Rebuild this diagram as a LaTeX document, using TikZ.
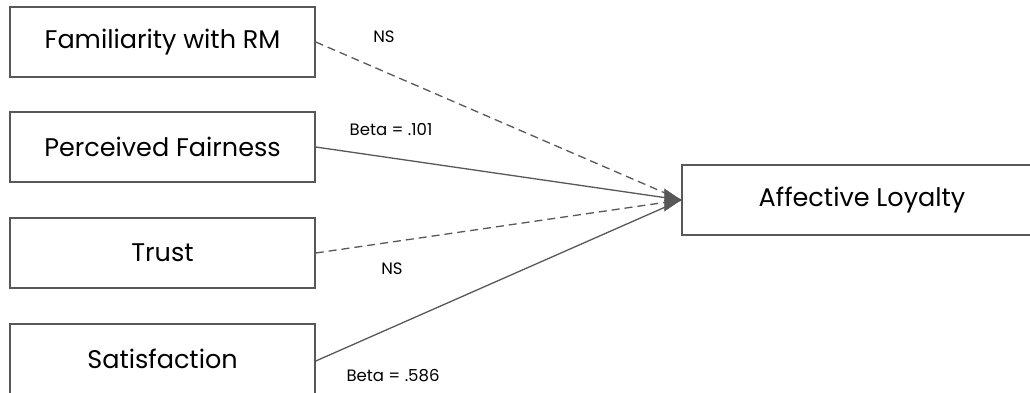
\documentclass[tikz,border=0pt]{standalone}
\usepackage{fontspec}
\setmainfont{Poppins}
\usetikzlibrary{arrows.meta}
\definecolor{edge}{HTML}{585858}
\tikzset{
  factor/.style={draw=edge, line width=1.5pt, fill=white, minimum width=305pt,
    minimum height=70pt, inner sep=0pt, font=\fontsize{25.5}{28}\selectfont},
  outcome/.style={factor, minimum width=360pt},
  sig/.style={draw=edge, line width=1.3pt},
  nsig/.style={sig, dash pattern=on 8pt off 5pt},
  coef/.style={font=\fontsize{16.5}{19}\selectfont, inner sep=0pt},
  tip/.style={draw=edge, line width=0.5pt, -{Triangle[length=17pt,width=23pt]}}
}
\begin{document}
\begin{tikzpicture}[x=1pt,y=-1pt]
\clip (0,0) rectangle (1030,392);
\fill[white] (0,0) rectangle (1030,392);
% predictors on the left
\node[factor] (fam) at (162.5,42) {Familiarity with RM};
\node[factor] (fair) at (162.5,147) {Perceived Fairness};
\node[factor] (trust) at (162.5,253) {Trust};
\node[factor] (sat) at (162.5,359) {Satisfaction};
% outcome on the right
\node[outcome] (al) at (862,200) {Affective Loyalty};
\coordinate (hit) at (al.west);
% paths
\draw[nsig] (fam.east) -- (hit);
\draw[sig] (fair.east) -- (hit);
\draw[nsig] (trust.east) -- (hit);
\draw[sig] ([yshift=-2pt]sat.east) -- (hit);
\draw[tip] ([xshift=-16pt]hit) -- (hit);
% coefficients
\node[coef] (l1) at (384,37) {NS};
\node[coef] (l2) at (391,130) {Beta = .101};
\node[coef] (l3) at (392,269) {NS};
\node[coef] (l4) at (393,376) {Beta = .586};
\end{tikzpicture}
\end{document}
